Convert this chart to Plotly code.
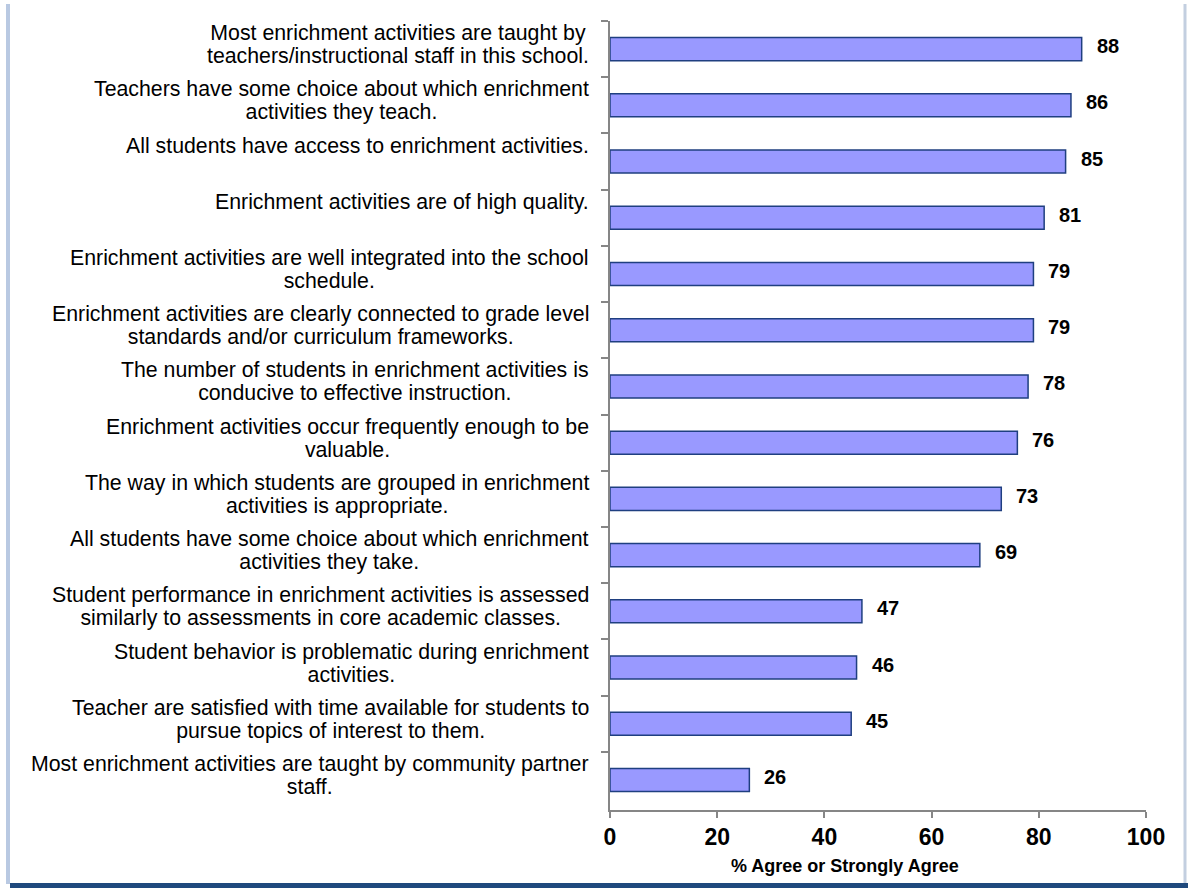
import plotly.graph_objects as go

categories = [
    "Most enrichment activities are taught by<br>teachers/instructional staff in this school.",
    "Teachers have some choice about which enrichment<br>activities they teach.",
    "All students have access to enrichment activities.",
    "Enrichment activities are of high quality.",
    "Enrichment activities are well integrated into the school<br>schedule.",
    "Enrichment activities are clearly connected to grade level<br>standards and/or curriculum frameworks.",
    "The number of students in enrichment activities is<br>conducive to effective instruction.",
    "Enrichment activities occur frequently enough to be<br>valuable.",
    "The way in which students are grouped in enrichment<br>activities is appropriate.",
    "All students have some choice about which enrichment<br>activities they take.",
    "Student performance in enrichment activities is assessed<br>similarly to assessments in core academic classes.",
    "Student behavior is problematic during enrichment<br>activities.",
    "Teacher are satisfied with time available for students to<br>pursue topics of interest to them.",
    "Most enrichment activities are taught by community partner<br>staff.",
]
values = [88, 86, 85, 81, 79, 79, 78, 76, 73, 69, 47, 46, 45, 26]
x_ticks = [0, 20, 40, 60, 80, 100]
x_title = "% Agree or Strongly Agree"

W, H = 1188, 888
ML, MR, MT, MB = 610, 42, 21, 78
PW, PH = W - ML - MR, H - MT - MB

def px(xp):
    return (xp - ML) / PW

def py(yp):
    return (H - MB - yp) / PH

FONT = "Arial, Liberation Sans, sans-serif"

def big(txt):
    # larger glyphs while line spacing follows the annotation's base font size
    return "<br>".join(f'<span style="font-size:21.3px">{part}</span>' for part in txt.split("<br>"))

fig = go.Figure()
fig.add_trace(go.Bar(
    x=values, y=categories, orientation="h",
    marker=dict(color="#9999FF", line=dict(color="#1F3F80", width=1.5)),
    hoverinfo="skip",
))

annotations = []
for c, v in zip(categories, values):
    annotations.append(dict(
        x=0, y=c, xref="x", yref="y", text=big(c), showarrow=False,
        xanchor="right", yanchor="top", align="center", xshift=-19, yshift=30,
        font=dict(family=FONT, size=17.5, color="#000000"),
    ))
    annotations.append(dict(
        x=v, y=c, xref="x", yref="y", text=f"<b>{v}</b>", showarrow=False,
        xanchor="left", yanchor="middle", xshift=13, yshift=3,
        font=dict(family=FONT, size=20, color="#000000"),
    ))

annotations.append(dict(
    x=px(845), y=py(866), xref="paper", yref="paper", text=f"<b>{x_title}</b>",
    showarrow=False, xanchor="center", yanchor="middle",
    font=dict(family=FONT, size=18, color="#000000"),
))

shapes = [
    # left frame edge
    dict(type="line", xref="paper", yref="paper", x0=px(8), x1=px(8), y0=py(4), y1=py(884),
         line=dict(color="#B9C9E2", width=4)),
    # right frame edge
    dict(type="line", xref="paper", yref="paper", x0=px(1185), x1=px(1185), y0=py(4), y1=py(884),
         line=dict(color="#C3CFE0", width=3)),
    # bottom frame band
    dict(type="rect", xref="paper", yref="paper", x0=px(10), x1=px(1188), y0=py(883), y1=py(890),
         fillcolor="#1F497D", line=dict(width=0)),
]

fig.update_layout(
    width=W, height=H, autosize=False,
    margin=dict(l=ML, r=MR, t=MT, b=MB, pad=0),
    paper_bgcolor="white", plot_bgcolor="white",
    bargap=0.59, showlegend=False,
    font=dict(family=FONT, color="#000000"),
    annotations=annotations, shapes=shapes,
    xaxis=dict(
        range=[0, 100], tickvals=x_ticks, ticktext=[f"<b>{t}</b>" for t in x_ticks],
        showgrid=False, zeroline=False, showline=True, linecolor="#868686", linewidth=1.5,
        ticks="outside", ticklen=6, tickcolor="#868686", tickwidth=1.5,
        tickfont=dict(family=FONT, size=23, color="#000000"),
        fixedrange=True,
    ),
    yaxis=dict(
        autorange="reversed", showticklabels=False, showgrid=False, zeroline=False,
        showline=True, linecolor="#868686", linewidth=1.5,
        ticks="outside", ticklen=7, tickcolor="#868686", tickwidth=1.5, tickson="boundaries",
        fixedrange=True,
    ),
)

fig.write_html("out.html")
